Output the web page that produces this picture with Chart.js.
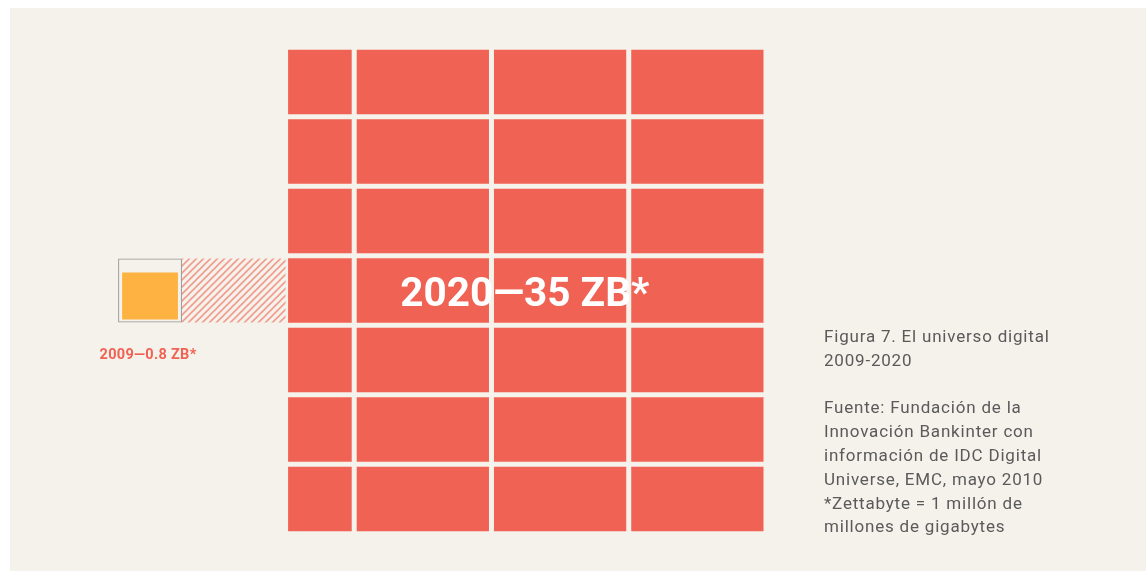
<!DOCTYPE html>
<html>
<head>
<meta charset="utf-8">
<script src="https://cdn.jsdelivr.net/npm/chart.js@4"></script>
<style>
body{margin:0;background:#fff;width:1146px;height:571px;overflow:hidden;position:relative;font-family:Roboto,"Noto Sans",sans-serif;}
#panel{position:absolute;left:10px;top:8px;right:0;bottom:0;background:#f5f2ec;}
#grafico{position:absolute;left:0;top:0;width:1146px;height:571px;}
#nota{position:absolute;left:824px;top:325px;font-size:17px;line-height:23.8px;letter-spacing:0.8px;color:#5a5a5a;}
#nota p{margin:0 0 23.8px 0;}
</style>
</head>
<body>
<div id="panel"></div>
<div id="grafico"><canvas id="universoChart"></canvas></div>
<div id="nota">
	<p>Figura 7. El universo digital<br>2009-2020</p>
	<p>Fuente: Fundación de la<br>Innovación Bankinter con<br>información de IDC Digital<br>Universe, EMC, mayo 2010<br>*Zettabyte = 1 millón de<br>millones de gigabytes</p>
</div>
<script>
//datos: 7 filas de bloques, cada fila con 4 columnas
var filas = ["fila 1", "fila 2", "fila 3", "fila 4", "fila 5", "fila 6", "fila 7"];
var anchoColumnas = [1, 2, 2, 2];
//bloque de 2009, a la izquierda de la fila 4
var fila2009 = 3;
var caja2009 = [-2.44, -1.51];
var trama2009 = [-1.51, 0];
var etiqueta2020 = "2020—35 ZB*";
var etiqueta2009 = "2009—0.8 ZB*";

var fondo = "#f5f2ec";
var rojo = "#f06253";
var naranja = "#fdb241";

//trama de rayas diagonales
function crearTrama(){
	var c = document.createElement("canvas");
	c.width = 7;
	c.height = 7;
	var t = c.getContext("2d");
	t.strokeStyle = "#f29c8e";
	t.lineWidth = 1.6;
	t.beginPath();
	t.moveTo(0, 7); t.lineTo(7, 0);
	t.moveTo(-1, 1); t.lineTo(1, -1);
	t.moveTo(6, 8); t.lineTo(8, 6);
	t.stroke();
	return t.createPattern(c, "repeat");
}

function soloFila(valor){
	return filas.map(function(f, i){ return i === fila2009 ? valor : null; });
}

var datasets = [
	{
		label: "marco 2009",
		data: soloFila(caja2009),
		backgroundColor: "rgba(0,0,0,0)",
		borderColor: "#949494",
		borderWidth: 1,
		barThickness: 64
	},
	{
		label: "2009",
		data: soloFila(caja2009),
		backgroundColor: naranja,
		borderColor: fondo,
		borderWidth: {top: 14, right: 4, bottom: 3, left: 4},
		barThickness: 64
	},
	{
		label: "trama",
		data: soloFila(trama2009),
		backgroundColor: crearTrama(),
		borderWidth: 0,
		barThickness: 64
	}
];

//columnas de bloques rojos (2020)
var inicio = 0;
anchoColumnas.forEach(function(ancho, c){
	var desde = inicio;
	datasets.push({
		label: "columna " + (c + 1),
		data: filas.map(function(){ return [desde, desde + ancho]; }),
		backgroundColor: rojo,
		borderColor: fondo,
		borderWidth: 2.5,
		categoryPercentage: 1,
		barPercentage: 1
	});
	inicio += ancho;
});

//etiquetas de texto sobre el grafico
var etiquetasPlugin = {
	id: "etiquetas",
	afterDatasetsDraw: function(chart){
		var ctx = chart.ctx;
		var x = chart.scales.x;
		var y = chart.scales.y;
		ctx.save();
		ctx.textAlign = "center";
		ctx.textBaseline = "alphabetic";
		ctx.fillStyle = "#ffffff";
		ctx.font = "bold 40.5px Roboto";
		ctx.fillText(etiqueta2020, x.getPixelForValue(inicio / 2) - 1, y.getPixelForValue(fila2009) + 15);
		ctx.fillStyle = rojo;
		ctx.font = "bold 14.5px Roboto";
		ctx.letterSpacing = "0.3px";
		ctx.fillText(etiqueta2009, x.getPixelForValue((caja2009[0] + caja2009[1]) / 2) - 2, y.getPixelForValue(fila2009) + 68);
		ctx.restore();
	}
};

var chart = new Chart(document.getElementById("universoChart").getContext("2d"), {
	type: "bar",
	data: {
		labels: filas,
		datasets: datasets
	},
	options: {
		indexAxis: "y",
		responsive: true,
		maintainAspectRatio: false,
		animation: false,
		events: [],
		layout: {padding: {left: 114, right: 380, top: 47.25, bottom: 37.25}},
		datasets: {
			bar: {grouped: false, borderSkipped: false, inflateAmount: 0}
		},
		scales: {
			x: {type: "linear", min: -2.5, max: 7, display: false},
			y: {type: "category", display: false}
		},
		plugins: {
			legend: {display: false},
			tooltip: {enabled: false}
		}
	},
	plugins: [etiquetasPlugin]
});
</script>
</body>
</html>
